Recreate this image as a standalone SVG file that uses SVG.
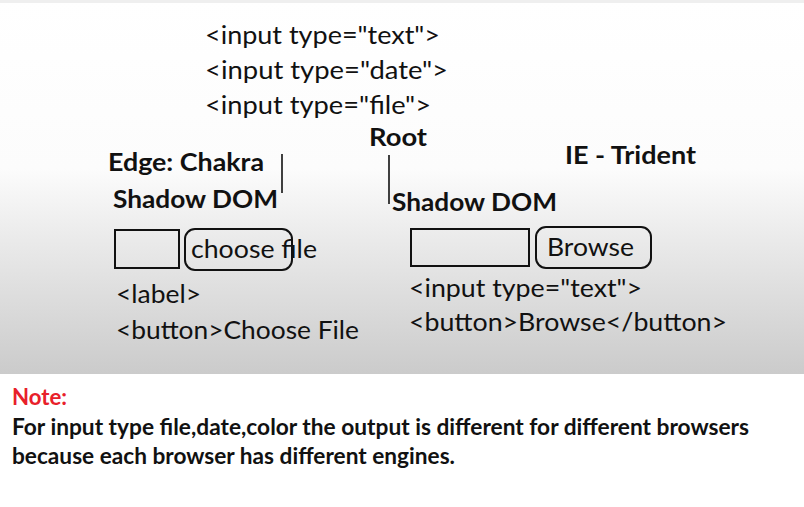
<svg xmlns="http://www.w3.org/2000/svg" width="804" height="507" viewBox="0 0 804 507">
<defs>
<linearGradient id="bg" x1="0" y1="0" x2="0" y2="374" gradientUnits="userSpaceOnUse">
<stop offset="0" stop-color="#ffffff"/>
<stop offset="0.45" stop-color="#fcfcfc"/>
<stop offset="0.62" stop-color="#ececec"/>
<stop offset="1" stop-color="#cbcbcb"/>
</linearGradient>
<style>
text{font-family:Lato,"Open Sans","Liberation Sans",sans-serif;fill:#111}
.code{font-size:25px}
.bold{font-size:25px;font-weight:bold}
.note{font-size:22px;font-weight:bold}
.box{fill:none;stroke:#111;stroke-width:2}
.line{stroke:#111;stroke-width:1.6;fill:none}
</style>
</defs>
<rect x="0" y="0" width="804" height="374" fill="url(#bg)"/>
<rect x="0" y="0" width="804" height="3" fill="#efefef"/>
<rect x="0" y="374" width="804" height="133" fill="#ffffff"/>

<g id="top-code">
<text class="code" x="205" y="44" textLength="235" lengthAdjust="spacingAndGlyphs">&lt;input type="text"&gt;</text>
<text class="code" x="205" y="79" textLength="243" lengthAdjust="spacingAndGlyphs">&lt;input type="date"&gt;</text>
<text class="code" x="205" y="114" textLength="226" lengthAdjust="spacingAndGlyphs">&lt;input type="file"&gt;</text>
</g>

<g id="root">
<text class="bold" x="369" y="146" textLength="58" lengthAdjust="spacingAndGlyphs">Root</text>
</g>

<g id="edge">
<text class="bold" x="108" y="171" textLength="156" lengthAdjust="spacingAndGlyphs">Edge: Chakra</text>
<text class="bold" x="113" y="208" textLength="165" lengthAdjust="spacingAndGlyphs">Shadow DOM</text>
</g>

<g id="ie">
<text class="bold" x="565" y="164" textLength="131" lengthAdjust="spacingAndGlyphs">IE - Trident</text>
<text class="bold" x="392" y="211" textLength="165" lengthAdjust="spacingAndGlyphs">Shadow DOM</text>
</g>

<g id="connectors">
<line class="line" x1="282" y1="154" x2="282" y2="193"/>
<line class="line" x1="389" y1="155" x2="389" y2="204"/>
</g>

<g id="edge-widget">
<rect class="box" x="115" y="230" width="64" height="38"/>
<rect class="box" x="185" y="229" width="107" height="41" rx="10"/>
<text class="code" x="191" y="258" textLength="126" lengthAdjust="spacingAndGlyphs">choose file</text>
</g>

<g id="ie-widget">
<rect class="box" x="411" y="229" width="118" height="37"/>
<rect class="box" x="536" y="227" width="115" height="41" rx="10"/>
<text class="code" x="547" y="256" textLength="87" lengthAdjust="spacingAndGlyphs">Browse</text>
</g>

<g id="edge-markup">
<text class="code" x="116" y="303" textLength="85" lengthAdjust="spacingAndGlyphs">&lt;label&gt;</text>
<text class="code" x="116" y="339" textLength="243" lengthAdjust="spacingAndGlyphs">&lt;button&gt;Choose File</text>
</g>

<g id="ie-markup">
<text class="code" x="409" y="297" textLength="233" lengthAdjust="spacingAndGlyphs">&lt;input type="text"&gt;</text>
<text class="code" x="409" y="331" textLength="318" lengthAdjust="spacingAndGlyphs">&lt;button&gt;Browse&lt;/button&gt;</text>
</g>

<g id="note">
<text class="note" x="12" y="405" textLength="55" lengthAdjust="spacingAndGlyphs" style="fill:#e8202a">Note:</text>
<text class="note" x="12" y="435" textLength="737" lengthAdjust="spacingAndGlyphs">For input type file,date,color the output is different for different browsers</text>
<text class="note" x="12" y="464" textLength="443" lengthAdjust="spacingAndGlyphs">because each browser has different engines.</text>
</g>
</svg>
